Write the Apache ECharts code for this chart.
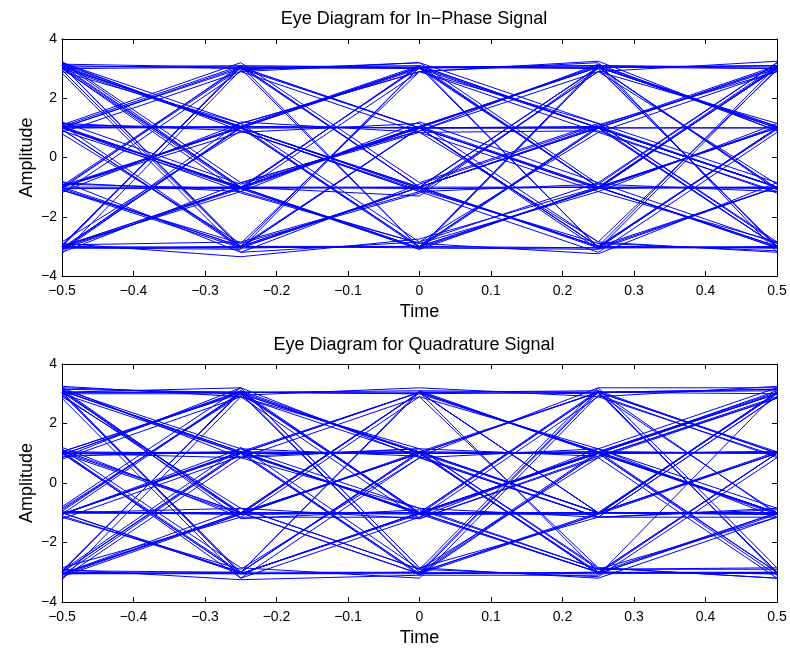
<!DOCTYPE html>
<html>
<head>
<meta charset="utf-8">
<script src="https://cdn.jsdelivr.net/npm/echarts@6/dist/echarts.min.js"></script>
<style>html,body{margin:0;padding:0;background:#fff}#c{width:790px;height:648px}</style>
</head>
<body>
<div id="c"></div>
<script>
// sample times of every trace
const timePoints = [-0.5, -0.25, 0, 0.25, 0.5];
const xTickLabels = [-0.5, -0.4, -0.3, -0.2, -0.1, 0, 0.1, 0.2, 0.3, 0.4, 0.5];
const yTickLabels = [-4, -2, 0, 2, 4];
const titles = ['Eye Diagram for In\u2212Phase Signal', 'Eye Diagram for Quadrature Signal'];

const inPhaseTraces = [
  [3.15, 3.05, 3.02, 3.05, 3.10],
  [3.10, 1.00, -1.05, -3.00, -3.05],
  [3.05, 1.05, 3.10, 1.00, -1.00],
  [3.20, -1.00, 1.05, 3.05, 1.00],
  [2.95, -3.05, -1.00, 1.00, 3.00],
  [3.10, 3.00, 1.00, -1.05, 1.00],
  [3.00, -1.05, -3.10, -1.00, -3.00],
  [3.15, 1.00, 1.02, 3.10, 3.00],
  [1.05, 3.10, 3.05, -1.00, -1.00],
  [1.00, -1.00, 1.00, -1.05, 1.05],
  [0.95, -3.00, 3.05, 1.00, -3.00],
  [1.10, 1.00, -1.00, 3.05, -1.05],
  [1.00, 3.00, -3.05, -3.05, 1.00],
  [0.90, -1.05, -1.00, 1.00, -1.00],
  [1.05, 1.00, -3.00, 1.05, 3.10],
  [0.95, -3.05, 1.00, -3.00, 0.95],
  [-1.00, 1.05, 3.05, 3.00, -3.00],
  [-1.05, -1.00, 1.05, -1.00, -3.05],
  [-0.95, 3.05, 1.00, 1.05, -1.00],
  [-1.10, -3.05, -3.00, 1.00, 3.05],
  [-1.00, 1.00, -1.05, -1.00, 1.00],
  [-0.90, -1.05, 3.10, -3.05, -1.00],
  [-1.05, 3.10, -1.00, 3.05, 3.00],
  [-1.00, -3.00, 1.00, 3.05, -1.10],
  [-3.05, -3.05, -3.00, -3.05, -3.00],
  [-3.00, -1.00, 1.05, 3.05, 3.10],
  [-3.10, 1.00, -1.00, -3.00, 1.00],
  [-2.95, 3.05, 3.10, 1.00, -1.00],
  [-3.05, -3.00, -1.00, -1.00, 3.00],
  [-3.00, -1.00, -3.10, 3.05, 1.00],
  [-3.15, 1.05, 1.00, -3.00, -3.05],
  [-3.00, 3.10, -3.05, -1.05, -1.00],
  [-2.90, -3.35, -2.75, -1.00, -3.00],
  [-3.05, -1.05, 1.00, 1.00, 3.05],
  [3.05, 3.10, -1.00, -3.05, 1.00],
  [3.10, -3.00, -3.05, 3.10, -3.05],
  [1.00, 1.05, 1.00, 1.00, 1.00],
  [-1.00, -1.00, -1.05, -1.00, -1.05],
  [3.00, 1.00, 3.05, 3.10, 3.05],
  [-3.05, -3.10, 3.05, -1.00, -3.05],
  [1.05, -1.00, -3.05, -3.10, -1.00],
  [-1.00, 1.00, 1.00, -3.00, 3.10],
  [3.10, -1.00, -1.00, 1.05, -3.00],
  [-3.00, 3.05, 1.00, -3.10, 3.00],
  [1.00, 3.05, -1.00, 1.00, -3.00],
  [-1.05, -3.00, -1.00, 3.05, 1.00],
  [3.05, 1.05, -3.00, -1.05, 3.05],
  [-3.10, -1.00, 3.05, 3.10, 1.05],
  [1.05, -1.05, 3.10, -1.00, 3.00],
  [-0.95, 1.00, -3.05, 1.00, -1.00],
  [3.00, 3.05, 3.00, 1.00, 1.00],
  [-3.00, -3.05, -1.00, -3.00, -1.00],
  [1.00, -1.00, -1.30, 3.00, -3.00],
  [-1.00, 3.00, 3.05, -3.05, -3.05],
  [3.10, -3.05, 1.00, 1.00, -1.00],
  [1.00, 1.00, 3.05, 3.05, 1.05],
  [-3.05, 1.00, 3.00, -1.00, 1.00],
  [1.10, -3.00, -3.00, -1.05, 3.05],
  [-1.05, -1.05, -3.05, 3.05, -1.05],
  [3.05, -1.00, 1.00, -1.00, 3.10],
  [3.20, 0.90, -1.10, -2.90, -3.15],
  [2.90, 1.15, 2.90, 0.85, -1.15],
  [3.25, -0.85, 0.90, 3.15, 0.90],
  [2.85, -3.20, -0.90, 1.10, 2.90],
  [0.85, 2.90, 3.20, -0.90, -1.15],
  [1.20, -0.90, 0.85, -1.15, 1.15],
  [0.80, -2.90, 2.90, 1.15, -2.85],
  [1.15, 0.90, -1.15, 2.90, -0.90],
  [-1.15, 1.15, 2.90, 3.20, -3.20],
  [-0.85, -1.15, 1.20, -0.85, -2.90],
  [-1.20, 2.90, 0.85, 0.90, -1.20],
  [-0.80, -3.20, -2.85, 0.85, 2.90],
  [-3.20, -0.85, 0.90, 2.90, 3.25],
  [-2.85, 0.90, -1.15, -3.20, 0.85],
  [-3.25, 2.95, 3.20, 1.15, -0.85],
  [-2.95, -2.85, -1.15, -0.90, 3.20],
  [3.00, -1.20, -2.90, -1.15, -2.85],
  [-3.10, 1.20, 0.85, -2.85, -3.20],
  [1.00, -1.15, -2.90, -3.25, -0.85],
  [-1.00, 0.85, 1.15, -2.85, 2.95],
  [3.20, 1.15, -2.85, -0.85, 3.20],
  [-3.00, -1.15, 2.90, 3.25, 0.90],
  [1.10, 3.20, -0.85, 1.15, -2.90],
  [-1.10, -2.90, -1.20, 2.90, 1.15]
];

const quadratureTraces = [
  [3.15, 3.05, 3.00, 3.05, 3.15],
  [3.10, 1.00, 1.00, 1.05, 3.05],
  [3.05, -1.00, -3.05, -3.00, 1.00],
  [3.20, 3.00, 1.05, -1.00, -1.05],
  [3.00, -3.05, -1.00, 1.00, 3.10],
  [3.10, 1.05, -1.00, -1.00, -1.00],
  [2.95, -1.05, 1.00, 3.05, 3.00],
  [3.05, 3.05, 3.05, 1.00, -3.00],
  [1.05, 3.00, 1.00, -1.00, -1.00],
  [1.00, 1.00, 1.05, 1.00, 1.05],
  [1.10, -1.00, 3.05, -3.00, -3.05],
  [0.95, 3.05, -1.05, 1.00, 3.00],
  [1.00, -3.05, -3.00, 3.10, 1.00],
  [0.90, 1.05, 3.05, -1.00, -1.05],
  [1.05, -1.00, -1.00, 1.05, -1.00],
  [1.00, 1.00, -3.05, -1.05, 3.05],
  [-1.00, -1.00, -1.05, -1.00, -1.00],
  [-1.05, 1.05, 1.00, -3.00, -3.05],
  [-0.95, 3.05, 3.10, 3.05, 1.05],
  [-1.10, -3.00, 1.00, 1.00, -1.00],
  [-1.00, -1.05, 3.05, 1.05, 1.00],
  [-0.90, 3.00, -3.00, -1.00, 3.00],
  [-1.05, 1.00, -1.00, 3.10, -1.05],
  [-1.00, -3.05, -1.05, -3.00, 1.00],
  [-3.05, -3.05, -3.05, -3.00, -3.05],
  [-3.00, 1.00, 3.05, 1.00, -1.00],
  [-3.10, -1.00, -1.00, 3.05, 3.10],
  [-2.95, 3.05, 1.00, -3.05, -3.00],
  [-3.05, -3.00, 1.05, -1.00, 1.00],
  [-3.00, 1.05, -3.05, 1.00, -3.10],
  [-3.15, -1.05, 3.05, 3.00, -1.00],
  [-3.00, 3.10, -1.00, -1.05, 3.05],
  [-2.90, -3.25, -3.10, 1.00, 1.05],
  [3.05, 3.05, -3.00, -3.05, -1.00],
  [1.05, -3.00, 1.05, -1.00, 3.05],
  [-1.00, -1.00, -3.05, 3.05, -3.00],
  [3.10, -1.00, 1.00, 1.00, 1.00],
  [-3.05, -1.05, -1.00, 1.05, 3.00],
  [1.00, 1.05, -1.00, -3.00, -1.00],
  [-1.05, 1.00, 1.05, 3.05, 3.15],
  [3.00, 1.00, 3.05, -1.00, 1.05],
  [-3.00, -3.05, -1.00, -1.00, -1.05],
  [1.05, 3.05, 3.00, 1.05, -1.00],
  [-1.00, -3.00, -3.00, -1.05, 3.05],
  [3.05, -3.00, 3.05, 3.10, -3.05],
  [1.00, -1.05, 1.00, 1.05, -3.00],
  [-3.10, 1.00, 1.00, -3.05, 1.00],
  [-1.05, 3.05, -1.00, 1.00, -1.00],
  [3.10, 1.05, -1.05, 3.05, 1.00],
  [-0.95, -1.05, 1.05, -3.05, -1.05],
  [1.00, -3.05, -1.00, -1.00, 1.00],
  [-3.05, -1.00, 3.05, -1.00, -1.00],
  [3.00, 3.00, -1.00, 1.00, 3.00],
  [1.05, 1.00, -3.10, -3.10, 3.05],
  [-1.00, -1.00, 1.00, 1.00, -1.05],
  [3.15, -1.05, -1.00, -3.00, -3.00],
  [-2.95, -3.00, 3.10, 1.00, 1.05],
  [0.95, 3.10, 1.00, 3.05, -3.00],
  [-1.05, 1.05, -1.05, -1.05, 1.00],
  [3.05, -3.05, -3.00, 1.05, 1.00],
  [3.20, 0.85, 1.15, 0.90, 2.90],
  [2.90, -0.85, -2.90, -3.15, 0.85],
  [3.25, 2.90, 0.90, -1.15, -0.90],
  [2.85, -3.20, -1.15, 1.15, 3.20],
  [3.15, 1.15, -0.85, -1.15, -1.15],
  [0.85, 3.20, 0.85, -1.15, -0.85],
  [1.20, -1.15, 2.90, -2.85, -3.20],
  [0.80, 2.90, -1.20, 0.85, 2.85],
  [1.15, -2.85, -3.20, 2.95, 0.85],
  [-1.20, 0.90, 1.15, -2.85, -3.20],
  [-0.85, 2.95, 3.20, 2.90, 0.90],
  [-1.15, -2.90, 0.85, 1.15, -0.85],
  [-0.80, 3.20, -2.85, -1.15, 2.90],
  [-3.20, 0.85, 2.90, 1.15, -1.15],
  [-2.85, -1.15, -1.15, 2.90, 3.25],
  [-3.25, 2.90, 1.15, -2.90, -2.85],
  [-2.95, 1.20, -2.90, 0.85, -3.20],
  [3.05, 3.20, -2.85, -3.20, -1.15],
  [1.05, -3.20, 0.85, -1.15, 2.90],
  [-1.00, -0.85, -2.90, 3.20, -2.85],
  [-3.05, -0.85, -1.20, 0.90, 2.85],
  [1.00, 0.85, -0.85, -2.90, -1.15],
  [-1.05, 1.15, 0.90, 3.20, 3.20],
  [3.10, -1.20, -0.90, -2.90, -2.90]
];

const FONT = 'Liberation Sans, Arial, Helvetica, sans-serif';
const fmtNum = v => {
  const r = Math.round(v * 10) / 10;
  const s = r === 0 ? '0' : (Number.isInteger(r) && Math.abs(r) >= 1 ? String(r) : r.toFixed(1));
  return s.replace('-', '\u2212');
};

const grids = [
  { left: 62, right: 13, top: 39, height: 237 },
  { left: 62, right: 13, top: 364, height: 238 }
];

const xAxes = [], yAxes = [], series = [];
grids.forEach((g, gi) => {
  const common = {
    gridIndex: gi, type: 'value',
    axisLine: { show: true, onZero: false, lineStyle: { color: '#000', width: 1 } },
    axisTick: { show: true, inside: true, length: 5, lineStyle: { color: '#000' } },
    splitLine: { show: false }
  };
  xAxes.push(Object.assign({}, common, {
    position: 'bottom', min: xTickLabels[0], max: xTickLabels[xTickLabels.length - 1], interval: 0.1,
    axisLabel: { color: '#000', fontSize: 14, fontFamily: FONT, margin: 8, formatter: fmtNum },
    name: 'Time', nameLocation: 'middle', nameGap: 27, nameMoveOverlap: false,
    nameTextStyle: { color: '#000', fontSize: 18, fontFamily: FONT }
  }));
  xAxes.push(Object.assign({}, common, {
    position: 'top', min: xTickLabels[0], max: xTickLabels[xTickLabels.length - 1], interval: 0.1,
    axisLabel: { show: false }
  }));
  yAxes.push(Object.assign({}, common, {
    position: 'left', min: yTickLabels[0], max: yTickLabels[yTickLabels.length - 1], interval: 2,
    axisLabel: { color: '#000', fontSize: 14, fontFamily: FONT, margin: 5, formatter: fmtNum },
    name: 'Amplitude', nameLocation: 'middle', nameGap: 26, nameRotate: 90, nameMoveOverlap: false,
    nameTextStyle: { color: '#000', fontSize: 18, fontFamily: FONT }
  }));
  yAxes.push(Object.assign({}, common, {
    position: 'right', min: yTickLabels[0], max: yTickLabels[yTickLabels.length - 1], interval: 2,
    axisLabel: { show: false }
  }));
  const traces = gi === 0 ? inPhaseTraces : quadratureTraces;
  traces.forEach(tr => {
    series.push({
      type: 'line', xAxisIndex: gi * 2, yAxisIndex: gi * 2,
      data: tr.map((v, i) => [timePoints[i], v]),
      symbol: 'none', silent: true,
      lineStyle: { color: '#0000ff', width: 1 }
    });
  });
});

const chart = echarts.init(document.getElementById('c'), null, { renderer: 'canvas' });
chart.setOption({
  animation: false,
  backgroundColor: '#fff',
  grid: grids,
  xAxis: xAxes,
  yAxis: yAxes,
  series: series,
  graphic: [
    { type: 'text', x: 414, y: 19, style: { text: titles[0], fill: '#000', font: '18px ' + FONT, textAlign: 'center', textVerticalAlign: 'middle' } },
    { type: 'text', x: 414, y: 345, style: { text: titles[1], fill: '#000', font: '18px ' + FONT, textAlign: 'center', textVerticalAlign: 'middle' } }
  ]
});
</script>
</body>
</html>
